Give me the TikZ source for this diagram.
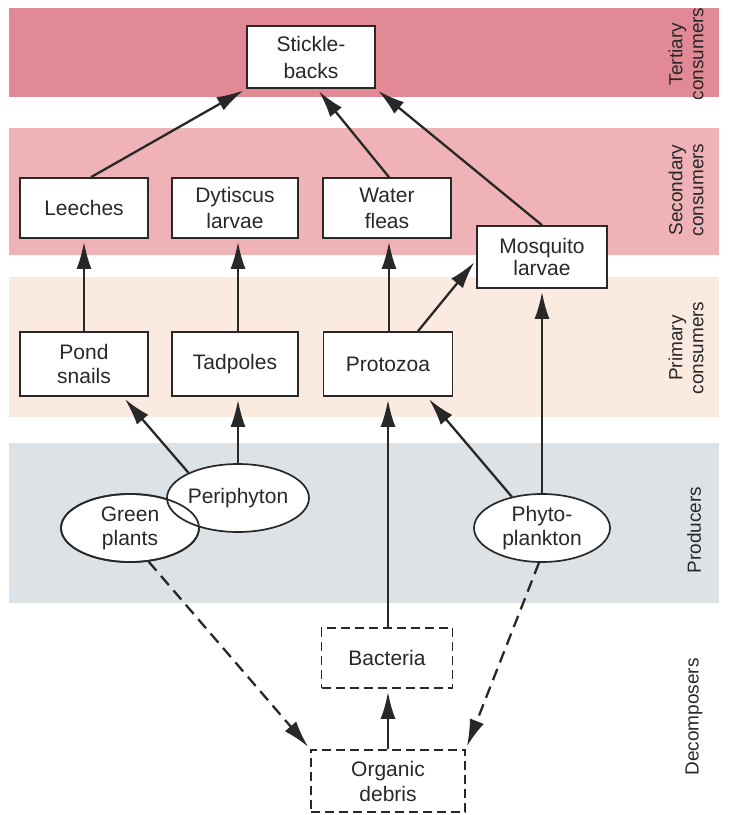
\documentclass[tikz,border=0pt]{standalone}
\usepackage{fontspec}
\setmainfont{Liberation Sans}
\usetikzlibrary{arrows.meta,shapes.geometric,calc}
\definecolor{tertc}{RGB}{225,138,150}
\definecolor{secc}{RGB}{238,178,183}
\definecolor{primc}{RGB}{250,234,224}
\definecolor{prodc}{RGB}{220,226,230}
\definecolor{ink}{RGB}{40,40,40}
\begin{document}
\begin{tikzpicture}[x=1pt,y=-1pt,
  box/.style={draw=ink,text=ink,fill=white,line width=1.7pt,minimum width=128pt,minimum height=62pt,align=center,inner sep=0pt,font=\fontsize{21}{25}\selectfont},
  dbox/.style={box,dash pattern=on 9pt off 5pt},
  ell/.style={ellipse,draw=ink,text=ink,fill=white,line width=1.7pt,minimum width=137pt,minimum height=68pt,inner sep=0pt,align=center,font=\fontsize{21}{24}\selectfont},
  arr/.style={draw=ink,line width=2.3pt,shorten >=3pt,-{Latex[length=27pt,width=15pt]}},
  darr/.style={arr,dash pattern=on 12pt off 7pt},
  lab/.style={rotate=90,align=center,text=ink,font=\fontsize{19}{21}\selectfont}]
\useasboundingbox (0,0) rectangle (730,815);
% bands
\fill[tertc] (9,8) rectangle (719,97);
\fill[secc] (9,128) rectangle (719,255);
\fill[primc] (9,277) rectangle (719,417);
\fill[prodc] (9,443) rectangle (719,603);
% band labels
\node[lab] (lt) at (686,54) {Tertiary\\consumers};
\node[lab] (ls) at (686,190) {Secondary\\consumers};
\node[lab] (lp) at (686,348) {Primary\\consumers};
\node[lab] (lpr) at (694,530) {Producers};
\node[lab] (ld) at (694,717) {Decomposers};
% nodes
\node[box,font=\fontsize{21}{27}\selectfont] (stick) at (311,57) {Stickle-\\backs};
\node[box,minimum height=60pt] (leech) at (84,208) {Leeches};
\node[box,minimum height=60pt,minimum width=126pt,font=\fontsize{21}{26}\selectfont] (dyt) at (235,208) {Dytiscus\\larvae};
\node[box,minimum height=60pt,font=\fontsize{21}{26}\selectfont] (wfl) at (387,208) {Water\\fleas};
\node[box,minimum width=130pt,minimum height=62pt,font=\fontsize{21}{22}\selectfont] (mosq) at (542,257) {Mosquito\\larvae};
\node[box,minimum height=64pt,font=\fontsize{21}{24}\selectfont] (pond) at (84,364) {Pond\\snails};
\node[box,minimum height=64pt,minimum width=126pt] (tad) at (235,364) {Tadpoles};
\node[box,minimum height=64pt,minimum width=129pt] (proto) at (388,364) {Protozoa};
\node[ell,minimum width=138pt] (gp) at (130,528) {Green\\plants};
\node[ell] (peri) at (238,498) {Periphyton};
\draw[ink,line width=1.7pt] (gp.center) ellipse [x radius=69, y radius=34];
\node[ell,minimum width=136pt] (phyto) at (542,528) {Phyto-\\plankton};
\node[dbox,minimum width=131pt,minimum height=60pt] (bact) at (387,658) {Bacteria};
\node[dbox,minimum width=154pt,minimum height=62pt] (deb) at (388,781) {Organic\\debris};
% arrows
\draw[arr] ([xshift=7pt]leech.north) -- (stick.south west);
\draw[arr] ([xshift=2pt]wfl.north) -- ([xshift=6pt]stick.south);
\draw[arr] (mosq.north) -- (stick.south east);
\draw[arr] (pond.north) -- (leech.south);
\draw[arr] ([xshift=3pt]tad.north) -- ([xshift=3pt]dyt.south);
\draw[arr] ([xshift=2pt]wfl.south |- proto.north) -- ([xshift=2pt]wfl.south);
\draw[arr] ([xshift=30pt]proto.north) -- ([yshift=-3pt]mosq.west);
\draw[arr] (peri.153) -- ([xshift=39pt]pond.south);
\draw[arr] (peri.north) -- (peri.north |- tad.south);
\draw[arr] (phyto.134) -- ([xshift=39pt]proto.south);
\draw[arr] (phyto.north) -- (phyto.north |- mosq.south);
\draw[arr] ([xshift=1pt]bact.north) -- ([xshift=1pt]bact.north |- proto.south);
\draw[arr] (deb.north) -- (deb.north |- bact.south);
\draw[darr] (gp.299) -- (deb.north west);
\draw[darr] (phyto.265) -- (deb.north east);
\end{tikzpicture}
\end{document}
